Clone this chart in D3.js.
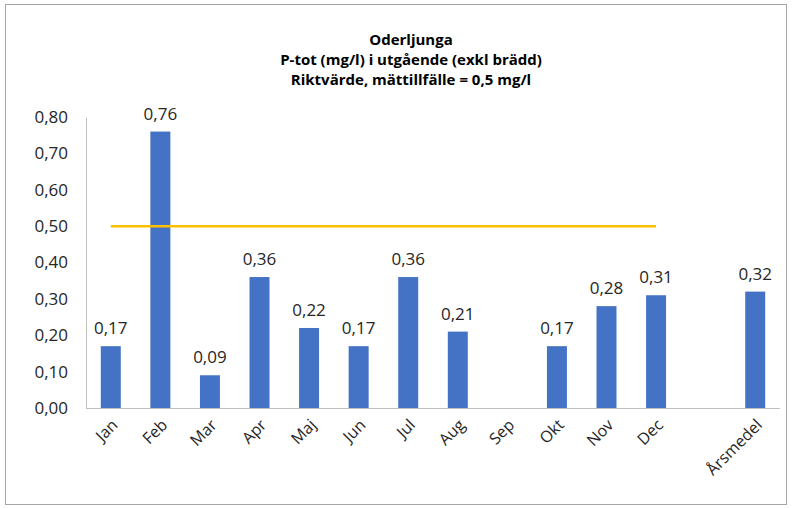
<!DOCTYPE html>
<html><head><meta charset="utf-8">
<script src="https://cdn.jsdelivr.net/npm/d3@7"></script>
<style>body{margin:0;background:#fff}svg{display:block}text{font-family:"Open Sans",sans-serif}</style>
</head><body><svg id="c" width="792" height="508"></svg>
<script>
const categories = ["Jan","Feb","Mar","Apr","Maj","Jun","Jul","Aug","Sep","Okt","Nov","Dec","","Årsmedel"];
const values = [0.17,0.76,0.09,0.36,0.22,0.17,0.36,0.21,null,0.17,0.28,0.31,null,0.32];
const refCategories = ["Jan","Feb","Mar","Apr","Maj","Jun","Jul","Aug","Sep","Okt","Nov","Dec"];
const refValues = [0.5,0.5,0.5,0.5,0.5,0.5,0.5,0.5,0.5,0.5,0.5,0.5];
const yTicks = [0,0.1,0.2,0.3,0.4,0.5,0.6,0.7,0.8];
const titleLines = ["Oderljunga","P-tot (mg/l) i utgående (exkl brädd)","Riktvärde, mättillfälle = 0,5 mg/l"];

const svg = d3.select("#c");
const fmt = v => d3.format(".2f")(v).replace(".", ",");
const m = {left:86, right:780, top:117, bottom:408};

svg.append("rect").attr("x",5.5).attr("y",4.5).attr("width",781).attr("height",500)
  .attr("fill","#fff").attr("stroke","#a6a6a6").attr("stroke-width",1);

const x = d3.scaleBand().domain(categories).range([m.left,m.right]).paddingInner(0.597).paddingOuter(0.2985);
const y = d3.scaleLinear().domain([0,0.8]).range([m.bottom,m.top]);

// title
const t = svg.append("text").attr("x",411).attr("y",45).attr("text-anchor","middle")
  .attr("font-weight","bold").attr("font-size",15).attr("fill","#000");
titleLines.forEach((l,i)=>t.append("tspan").attr("x",411).attr("dy",i?20:0).text(l));

// y axis
const ya = svg.append("g").attr("transform",`translate(${m.left},0)`)
  .call(d3.axisLeft(y).tickValues(yTicks).tickFormat(fmt).tickSize(0).tickPadding(18));
ya.select(".domain").attr("stroke","#bfbfbf");
ya.selectAll("text").attr("font-size",17).attr("fill","#262626").attr("font-family","Open Sans");

// bars
const data = categories.map((c,i)=>({c, v:values[i]})).filter(d=>d.v!=null);
svg.selectAll("rect.bar").data(data).join("rect").attr("class","bar")
  .attr("x",d=>x(d.c)).attr("width",x.bandwidth())
  .attr("y",d=>y(d.v)).attr("height",d=>y(0)-y(d.v)).attr("fill","#4472C4");

// x axis
const xa = svg.append("g").attr("transform",`translate(0,${m.bottom})`)
  .call(d3.axisBottom(x).tickSize(0).tickPadding(0));
xa.select(".domain").attr("stroke","#bfbfbf").attr("d",`M${m.left},0.5H${m.right}`);
xa.selectAll(".tick text").attr("font-size",16).attr("fill","#262626")
  .attr("text-anchor","end").attr("dy",0).attr("y",0)
  .attr("transform","translate(8,18) rotate(-45)");

// labels
svg.selectAll("text.lbl").data(data).join("text").attr("class","lbl")
  .attr("x",d=>x(d.c)+x.bandwidth()/2).attr("y",d=>y(d.v)-12)
  .attr("text-anchor","middle").attr("font-size",17).attr("fill","#262626").text(d=>fmt(d.v));

// reference line
const line = d3.line().x((d,i)=>x(refCategories[i])+x.bandwidth()/2).y(d=>y(d));
svg.append("path").attr("d",line(refValues)).attr("fill","none").attr("stroke","#FFC000").attr("stroke-width",2.5);
</script></body></html>
